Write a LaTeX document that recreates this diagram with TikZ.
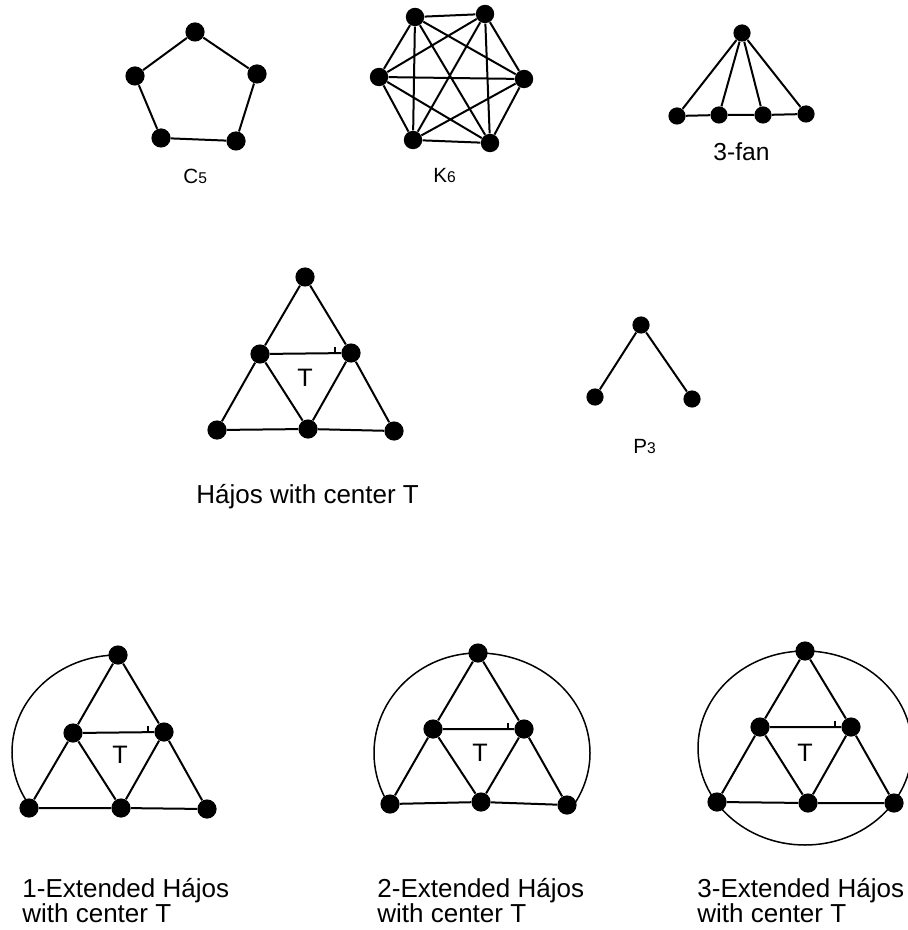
\documentclass[tikz,border=0pt]{standalone}
\usepackage{fontspec}
\setmainfont{Liberation Sans}
\newcommand{\HajosGraph}[7]{%
  \node[vtx] (#1a) at #2 {};
  \node[vtx] (#1b) at #3 {};
  \node[vtx] (#1c) at #4 {};
  \node[vtx] (#1d) at #5 {};
  \node[vtx] (#1e) at #6 {};
  \node[vtx] (#1f) at #7 {};
  \draw[edge] (#1a) -- (#1b) (#1a) -- (#1c) (#1b) -- (#1c)
              (#1b) -- (#1d) (#1b) -- (#1e) (#1c) -- (#1e)
              (#1c) -- (#1f) (#1d) -- (#1e) (#1e) -- (#1f);
  \draw[tick] ([xshift=-8pt]#1c.center) -- ++(0,-6);
}
\begin{document}
\begin{tikzpicture}[x=0.5pt,y=-0.5pt,
  vtx/.style={circle,fill=black,inner sep=0pt,minimum size=9.6pt},
  kvtx/.style={circle,fill=black,inner sep=0pt,minimum size=9.2pt},
  svtx/.style={circle,fill=black,inner sep=0pt,minimum size=8.6pt},
  edge/.style={line width=1pt},
  tick/.style={line width=0.7pt},
  arcline/.style={line width=0.75pt},
  biglbl/.style={anchor=base west,inner sep=0pt,align=left,
    font=\fontsize{13pt}{12.5pt}\selectfont},
  glbl/.style={anchor=base west,inner sep=0pt,font=\fontsize{10.3pt}{12pt}\selectfont},
  tlbl/.style={inner sep=0pt,font=\fontsize{12.6pt}{14pt}\selectfont}
]
\useasboundingbox (0,0) rectangle (907,930);

% C5
\node[vtx] (c1) at (195,32) {};
\node[vtx] (c2) at (257,74) {};
\node[vtx] (c3) at (236,141) {};
\node[vtx] (c4) at (161,138) {};
\node[vtx] (c5) at (135,76) {};
\draw[edge] (c1) -- (c2) -- (c3) -- (c4) -- (c5) -- (c1);
\node[glbl] (c5lbl) at (183,184) {C{\fontsize{7.8pt}{9pt}\selectfont 5}};

% K6
\node[kvtx] (k1) at (415,17) {};
\node[kvtx] (k2) at (485,14) {};
\node[kvtx] (k3) at (524,79) {};
\node[kvtx] (k4) at (490,143) {};
\node[kvtx] (k5) at (413,140) {};
\node[kvtx] (k6) at (379,77) {};
\draw[edge] (k1) -- (k2) (k1) -- (k3) (k1) -- (k4) (k1) -- (k5) (k1) -- (k6)
            (k2) -- (k3) (k2) -- (k4) (k2) -- (k5) (k2) -- (k6)
            (k3) -- (k4) (k3) -- (k5) (k3) -- (k6)
            (k4) -- (k5) (k4) -- (k6)
            (k5) -- (k6);
\node[glbl] (k6lbl) at (433,183) {K{\fontsize{7.8pt}{9pt}\selectfont 6}};

% 3-fan
\node[svtx] (fa) at (742,33) {};
\node[svtx] (f1) at (677,116) {};
\node[svtx] (f2) at (719,115) {};
\node[svtx] (f3) at (763,115) {};
\node[svtx] (f4) at (806,114) {};
\draw[edge] (fa) -- (f1) (fa) -- (f2) (fa) -- (f3) (fa) -- (f4)
            (f1) -- (f2) -- (f3) -- (f4);
\node[anchor=base west,inner sep=0pt,font=\fontsize{12.3pt}{14pt}\selectfont] (fanlbl) at (713,161) {3-fan};

% Hajos
\HajosGraph{h}{(305,277)}{(260,354)}{(351,353)}{(217,430)}{(308,429)}{(394,431)}
\node[tlbl] (hT) at (305,378) {T};
\node[biglbl] (hlbl) at (196,503) {Hájos with center T};

% P3
\node[svtx] (p1) at (641,325) {};
\node[svtx] (p2) at (595,397) {};
\node[svtx] (p3) at (692,399) {};
\draw[edge] (p2) -- (p1) -- (p3);
\node[glbl] (p3lbl) at (633,453) {P{\fontsize{7.8pt}{9pt}\selectfont 3}};

% 1-Extended
\HajosGraph{x}{(118,655)}{(73,733)}{(164,732)}{(29,808)}{(121,808)}{(207,809)}
\draw[arcline] (xa.center) arc[start angle=90,end angle=214,x radius=53pt,y radius=48.5pt];
\node[tlbl] (xT) at (120,755) {T};
\node[biglbl] (xlbl) at (22,922) {1-Extended Hájos\\with center T};

% 2-Extended
\HajosGraph{y}{(478,653)}{(433,729)}{(524,729)}{(390,804)}{(481,802)}{(567,805)}
\draw[arcline] (ya.center) arc[start angle=90,end angle=212,x radius=52pt,y radius=50pt];
\draw[arcline] (ya.center) arc[start angle=90,end angle=-32,x radius=56pt,y radius=50pt];
\node[tlbl] (yT) at (480,753) {T};
\node[biglbl] (ylbl) at (377,922) {2-Extended Hájos\\with center T};

% 3-Extended
\HajosGraph{z}{(805,651)}{(760,727)}{(851,727)}{(717,802)}{(808,803)}{(894,803)}
\draw[arcline] (za.center) arc[start angle=90,end angle=450,x radius=53.5pt,y radius=48.5pt];
\node[tlbl] (zT) at (805,753) {T};
\node[biglbl] (zlbl) at (697,922) {3-Extended Hájos\\with center T};
\end{tikzpicture}
\end{document}
